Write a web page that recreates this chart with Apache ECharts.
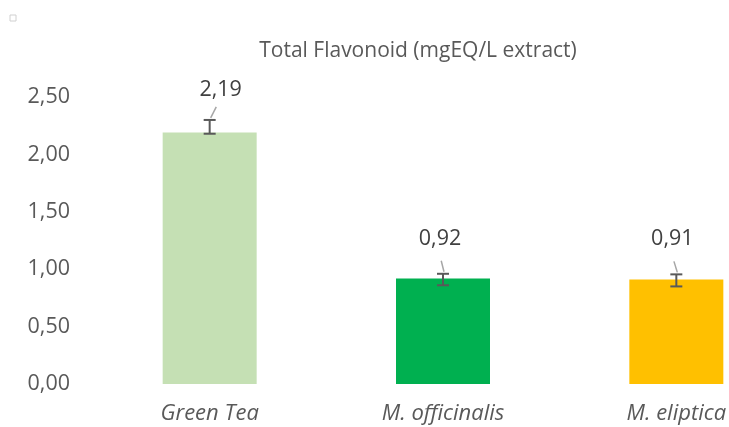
<!DOCTYPE html>
<html>
<head>
<meta charset="utf-8">
<script src="https://cdn.jsdelivr.net/npm/echarts@6/dist/echarts.min.js"></script>
<style>
  html, body { margin: 0; padding: 0; background: #fff; }
  #chart { width: 729px; height: 427px; }
</style>
</head>
<body>
<div id="chart"></div>
<script>
// data
const categories = ['Green Tea', 'M. officinalis', 'M. eliptica'];
const values = [2.19, 0.92, 0.91];
const errLow = [2.18, 0.86, 0.85];
const errHigh = [2.30, 0.96, 0.955];
const barColors = ['#C5E0B4', '#00B050', '#FFC000'];
// small nudge of each value label, px
const labelShift = [11, -3, -4];
const labelLift = [30, 35, 35];

const fmt = v => v.toFixed(2).replace('.', ',');
const font = '"Open Sans", sans-serif';

const myChart = echarts.init(document.getElementById('chart'));
myChart.setOption({
  animation: false,
  title: {
    text: 'Total Flavonoid (mgEQ/L extract)',
    left: 413,
    textAlign: 'center',
    top: 36,
    textStyle: { fontFamily: font, fontSize: 21, fontWeight: 'normal', color: '#595959' }
  },
  graphic: [{
    type: 'rect',
    shape: { x: 10, y: 15, width: 6, height: 6 },
    style: { fill: '#fff', stroke: '#d0d0d0', lineWidth: 1 }
  }],
  grid: { left: 93, top: 97, width: 700, height: 287, outerBoundsMode: 'none' },
  xAxis: {
    type: 'category',
    data: categories,
    axisLine: { show: false },
    axisTick: { show: false },
    axisLabel: {
      margin: 19,
      fontFamily: font, fontSize: 22, fontStyle: 'italic', color: '#595959'
    }
  },
  yAxis: {
    type: 'value',
    min: 0,
    max: 2.5,
    interval: 0.5,
    splitLine: { show: false },
    axisLine: { show: false },
    axisTick: { show: false },
    axisLabel: {
      margin: 23,
      formatter: v => fmt(v),
      fontFamily: font, fontSize: 21.5, color: '#595959'
    }
  },
  series: [
    {
      type: 'bar',
      barWidth: 94,
      data: values.map((v, i) => ({ value: v, itemStyle: { color: barColors[i] } }))
    },
    {
      type: 'custom',
      z: 10,
      data: values.map((v, i) => [i, errLow[i], errHigh[i], v]),
      renderItem: function (params, api) {
        const i = api.value(0);
        const hi = api.coord([i, api.value(2)]);
        const lo = api.coord([i, api.value(1)]);
        const x = hi[0];
        const dx = labelShift[params.dataIndex];
        const lift = labelLift[params.dataIndex];
        const st = { stroke: '#595959', lineWidth: 2 };
        return {
          type: 'group',
          children: [
            { type: 'line', shape: { x1: x, y1: hi[1], x2: x, y2: lo[1] }, style: st },
            { type: 'line', shape: { x1: x - 6, y1: hi[1], x2: x + 6, y2: hi[1] }, style: st },
            { type: 'line', shape: { x1: x - 6, y1: lo[1], x2: x + 6, y2: lo[1] }, style: st },
            {
              type: 'line',
              shape: { x1: x + dx * 0.6, y1: hi[1] - 13, x2: x + 1, y2: hi[1] - 2 },
              style: { stroke: '#a6a6a6', lineWidth: 1.5 }
            },
            {
              type: 'text',
              x: x + dx,
              y: hi[1] - lift,
              style: {
                text: fmt(api.value(3)),
                align: 'center',
                verticalAlign: 'middle',
                fontFamily: font,
                fontSize: 21.5,
                fill: '#404040'
              }
            }
          ]
        };
      }
    }
  ]
});
</script>
</body>
</html>
